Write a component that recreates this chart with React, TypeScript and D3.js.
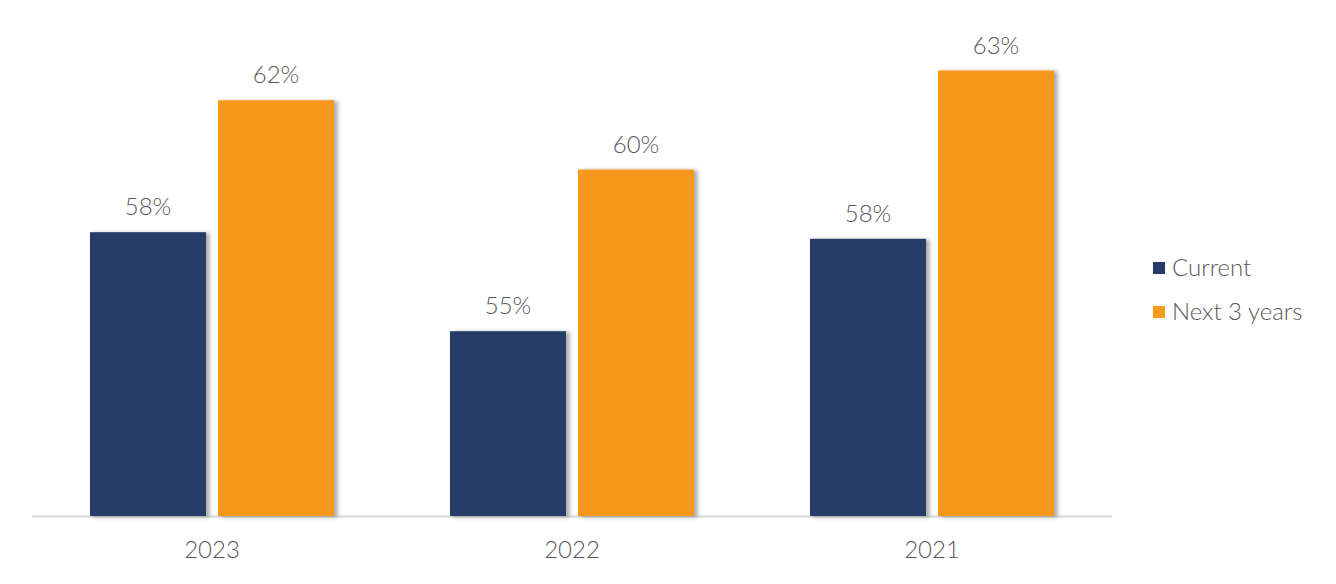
import React from "react";
import * as d3 from "d3";

const categories = ["2023", "2022", "2021"];
const seriesNames = ["Current", "Next 3 years"];
const currentValues = [58.0, 55.0, 57.8];
const nextValues = [62.0, 59.9, 62.9];
const labelCurrent = ["58%", "55%", "58%"];
const labelNext = ["62%", "60%", "63%"];
const colors = ["#253C6A", "#F7981F"];

const W = 1336;
const H = 584;
const plotLeft = 32;
const plotRight = 1112;
const baseY = 516;

export default function App() {
  const x0 = d3.scaleBand<string>().domain(categories).range([plotLeft, plotRight]).paddingInner(0).paddingOuter(0);
  const y = d3.scaleLinear().domain([49.4, 64]).range([baseY, baseY - 33 * (64 - 49.4)]);
  const barW = 116;
  const gap = 12;
  const series = [currentValues, nextValues];
  const labels = [labelCurrent, labelNext];
  const font = "Lato, 'Open Sans', sans-serif";
  const fs = 24;
  const fw = 300;
  return (
    <svg width={W} height={H} style={{ position: "absolute", left: 0, top: 0, background: "#fff" }}>
      <defs>
        <filter id="sh" x="-20%" y="-5%" width="150%" height="115%">
          <feDropShadow dx="3.5" dy="1" stdDeviation="2" floodColor="#000" floodOpacity="0.35" />
        </filter>
      </defs>
      <line x1={plotLeft} x2={plotRight} y1={baseY + 0.5} y2={baseY + 0.5} stroke="#d9d9d9" strokeWidth={2} />
      {categories.map((c, i) => {
        const center = (x0(c) as number) + x0.bandwidth() / 2;
        const groupW = barW * 2 + gap;
        const start = center - groupW / 2;
        return (
          <g key={c}>
            {series.map((vals, s) => {
              const bx = start + s * (barW + gap);
              const by = y(vals[i]);
              return (
                <g key={s}>
                  <rect x={bx} y={by} width={barW} height={baseY - by} fill={colors[s]} filter="url(#sh)" />
                  <text x={bx + barW / 2} y={by - 17} textAnchor="middle" fontFamily={font} fontSize={fs} fontWeight={fw} fill="#595959">
                    {labels[s][i]}
                  </text>
                </g>
              );
            })}
            <text x={center} y={558} textAnchor="middle" fontFamily={font} fontSize={fs} fontWeight={fw} fill="#595959">
              {c}
            </text>
          </g>
        );
      })}
      {seriesNames.map((n, s) => (
        <g key={n} transform={`translate(1153, ${262 + s * 44})`}>
          <rect x={0} y={0} width={12} height={12} fill={colors[s]} />
          <text x={19} y={14} fontFamily={font} fontSize={fs} fontWeight={fw} fill="#595959">
            {n}
          </text>
        </g>
      ))}
    </svg>
  );
}
